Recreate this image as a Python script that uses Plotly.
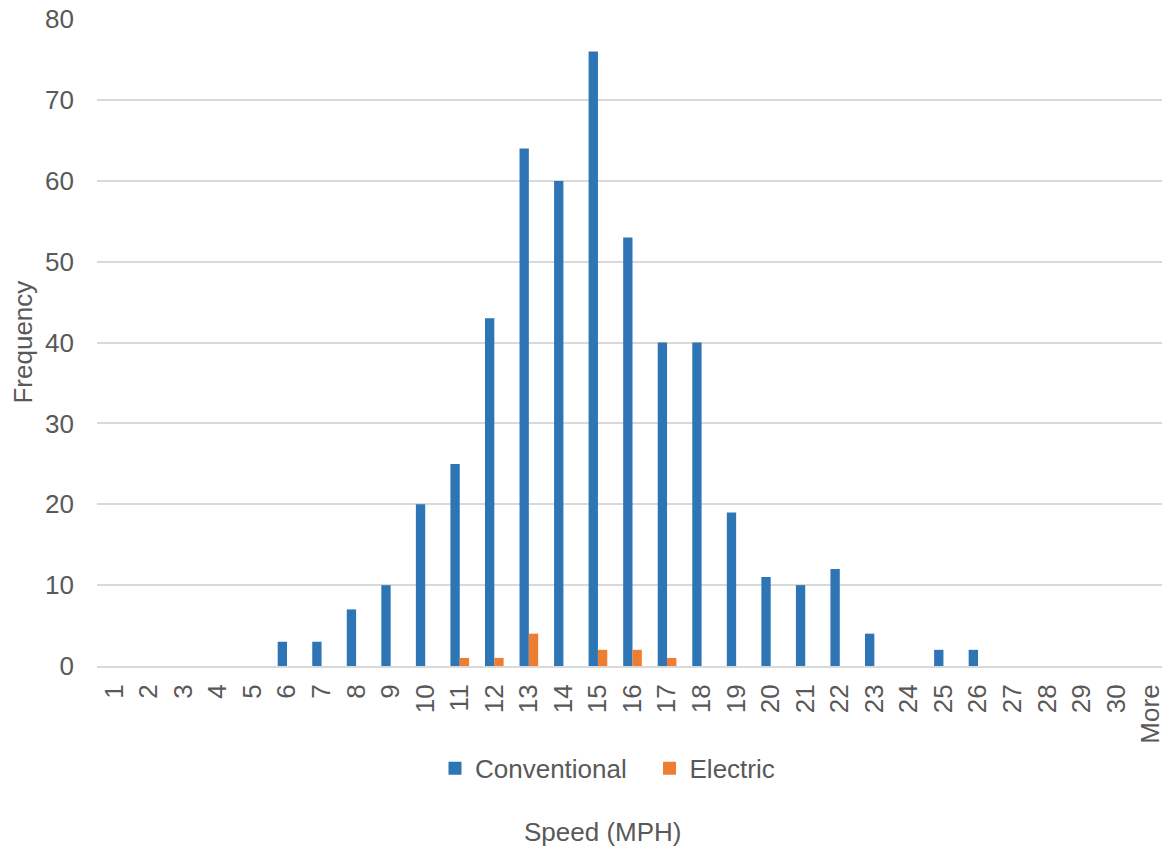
import plotly.graph_objects as go

categories = [str(i) for i in range(1, 31)] + ["More"]
conventional = [0, 0, 0, 0, 0, 3, 3, 7, 10, 20, 25, 43, 64, 60, 76, 53, 40, 40, 19, 11, 10, 12, 4, 0, 2, 2, 0, 0, 0, 0, 0]
electric = [0, 0, 0, 0, 0, 0, 0, 0, 0, 0, 1, 1, 4, 0, 2, 2, 1, 0, 0, 0, 0, 0, 0, 0, 0, 0, 0, 0, 0, 0, 0]
y_ticks = [0, 10, 20, 30, 40, 50, 60, 70, 80]
series_names = ["Conventional", "Electric"]
series_colors = ["#2E75B6", "#ED7D31"]

font_family = "Liberation Sans, Arial, sans-serif"
text_color = "#595959"
fs = 26

fig = go.Figure()
for name, vals, col in zip(series_names, [conventional, electric], series_colors):
    fig.add_trace(go.Bar(x=categories, y=vals, name=name, showlegend=False,
                         marker=dict(color=col, line=dict(width=0))))
# legend entries with larger square symbols, one legend each for precise placement
for i, (name, col) in enumerate(zip(series_names, series_colors)):
    fig.add_trace(go.Scatter(x=[None], y=[None], mode="markers", name=name,
                             marker=dict(symbol="square", size=13, color=col),
                             legend="legend" if i == 0 else "legend2", hoverinfo="skip"))

legend_common = dict(orientation="h", xanchor="left", y=-0.158, yanchor="middle",
                     font=dict(size=fs, color=text_color), itemwidth=30,
                     bgcolor="rgba(0,0,0,0)")

fig.update_layout(
    width=1160, height=842,
    margin=dict(l=89, r=0, t=11, b=184, autoexpand=False),
    paper_bgcolor="white", plot_bgcolor="white",
    barmode="group", bargap=0.46, bargroupgap=0,
    font=dict(family=font_family, size=fs, color=text_color),
    showlegend=True,
    legend=dict(x=0.3156, **legend_common),
    legend2=dict(x=0.5159, **legend_common),
    annotations=[
        dict(text="Speed (MPH)", xref="paper", yref="paper", x=0.472, y=-0.2566,
             xanchor="center", yanchor="middle", showarrow=False,
             font=dict(size=fs, color=text_color)),
        dict(text="Frequency", xref="paper", yref="paper", x=-0.070, y=0.5,
             xanchor="center", yanchor="middle", showarrow=False, textangle=-90,
             font=dict(size=fs, color=text_color)),
    ],
)
fig.update_xaxes(type="category", tickangle=-90, showgrid=False,
                 showline=True, linecolor="#D9D9D9", linewidth=2,
                 tickfont=dict(size=fs, color=text_color), ticks="",
                 ticklabelstandoff=6)
fig.update_yaxes(range=[0, 80.03], tickvals=y_ticks, showgrid=True, gridcolor="#D9D9D9",
                 gridwidth=2, zeroline=False, showline=False,
                 tickfont=dict(size=fs, color=text_color), ticklabelstandoff=22,
                 ticklabeloverflow="allow")

fig.write_html("out.html")
